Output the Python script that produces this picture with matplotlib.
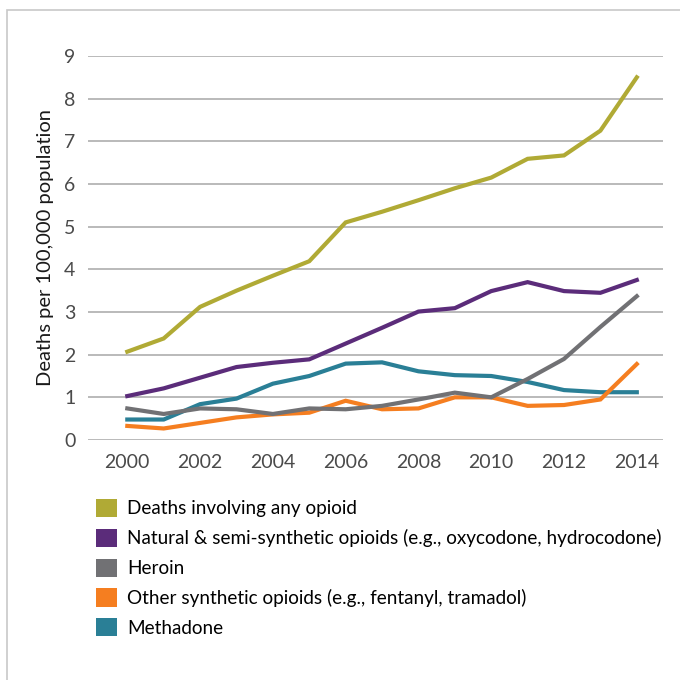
import matplotlib
matplotlib.use("Agg")
import matplotlib.pyplot as plt
from matplotlib.patches import Patch, Rectangle

years = list(range(2000, 2015))

any_opioid = [2.07, 2.38, 3.12, 3.5, 3.85, 4.19, 5.1, 5.35, 5.62, 5.9, 6.15, 6.59, 6.67, 7.25, 8.5]
natural = [1.03, 1.21, 1.46, 1.71, 1.81, 1.89, 2.26, 2.63, 3.01, 3.09, 3.49, 3.70, 3.49, 3.45, 3.75]
heroin = [0.74, 0.61, 0.74, 0.72, 0.61, 0.74, 0.72, 0.80, 0.95, 1.11, 1.0, 1.43, 1.9, 2.65, 3.37]
other_synth = [0.33, 0.27, 0.40, 0.53, 0.60, 0.64, 0.92, 0.72, 0.74, 1.0, 1.0, 0.80, 0.82, 0.95, 1.78]
methadone = [0.48, 0.48, 0.84, 0.97, 1.32, 1.50, 1.79, 1.82, 1.61, 1.52, 1.50, 1.36, 1.17, 1.12, 1.12]

labels = [
    "Deaths involving any opioid",
    "Natural & semi-synthetic opioids (e.g., oxycodone, hydrocodone)",
    "Heroin",
    "Other synthetic opioids (e.g., fentanyl, tramadol)",
    "Methadone",
]
colors = ["#b0aa35", "#5b2c7a", "#717174", "#f57e20", "#2a7f96"]
series = [any_opioid, natural, heroin, other_synth, methadone]

plt.rcParams['font.family'] = ['Lato', 'DejaVu Sans']

fig = plt.figure(figsize=(6.8, 6.8), dpi=100)
# light frame round the chart
fig.patches.append(Rectangle((7 / 680, -0.1), 1.2, 1 - 10 / 680 + 0.1,
                             transform=fig.transFigure, fill=False,
                             edgecolor="#c8c8c8", linewidth=1.2))

ax = fig.add_axes([88 / 680, 1 - 440 / 680, (663 - 88) / 680, (440 - 56) / 680])

# draw order: any opioid on top of the rest
for i in [4, 3, 2, 1, 0]:
    ax.plot(years, series[i], color=colors[i], linewidth=3.0,
            solid_joinstyle="miter", zorder=3 + (4 - i))

ax.set_xlim(1998.92, 2014.72)
ax.set_ylim(0, 9)
ax.set_yticks(range(0, 10))
ax.set_xticks(range(2000, 2015, 2))
ax.grid(axis="y", color="#b4b4b4", linewidth=1.3)
ax.set_axisbelow(True)
for s in ax.spines.values():
    s.set_visible(False)
ax.tick_params(length=0, labelsize=14, labelcolor="#4a4a4a")
ax.tick_params(axis="y", pad=9)
ax.tick_params(axis="x", pad=10)
ax.set_ylabel("Deaths per 100,000 population", fontsize=14.5, color="#1a1a1a")
ax.yaxis.set_label_coords(-34 / 575, 0.5)

handles = [Patch(facecolor=c, edgecolor="none") for c in colors]
fig.legend(handles, labels, loc="upper left", bbox_to_anchor=(96 / 680, 1 - 499 / 680),
           frameon=False, fontsize=13.6, handlelength=1.1, handleheight=1.1,
           handletextpad=0.55, labelspacing=0.6, borderaxespad=0, borderpad=0)

fig.savefig("out.png", dpi=100)
